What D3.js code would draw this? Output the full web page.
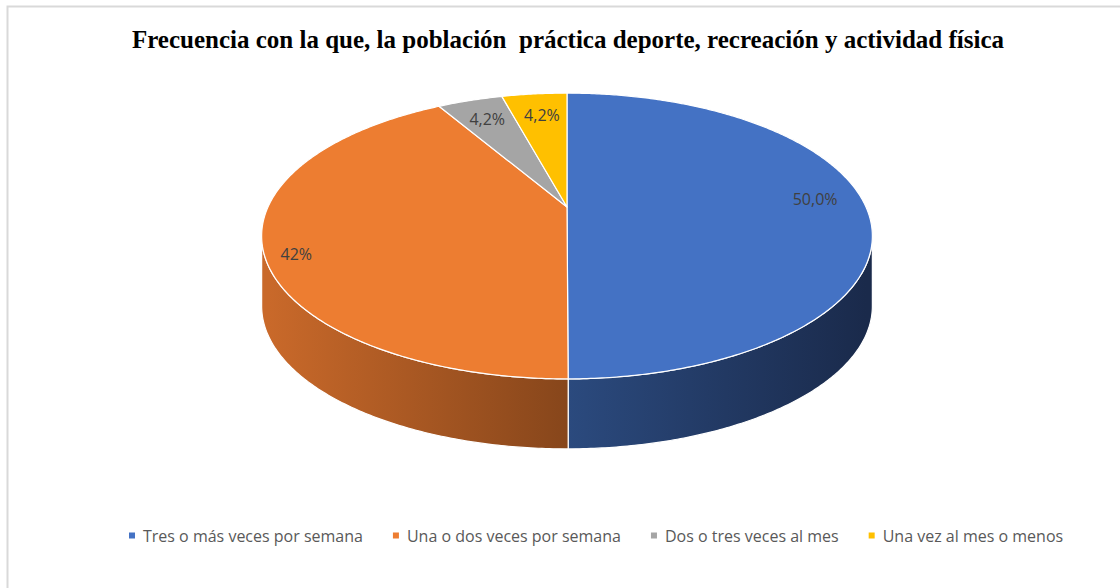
<!DOCTYPE html>
<html>
<head>
<meta charset="utf-8">
<script src="https://cdn.jsdelivr.net/npm/d3@7"></script>
<style>
  body { margin: 0; background: #fff; }
  svg { display: block; }
</style>
</head>
<body>
<svg id="chart" width="1120" height="588"></svg>
<script>
// data
var categories = ["Tres o más veces por semana", "Una o dos veces por semana", "Dos o tres veces al mes", "Una vez al mes o menos"];
var values = [50.0, 41.7, 4.2, 4.2];
var labels = ["50,0%", "42%", "4,2%", "4,2%"];
var colors = ["#4472C4", "#ED7D31", "#A5A5A5", "#FFC000"];
var title = "Frecuencia con la que, la población  práctica deporte, recreación y actividad física";

var svg = d3.select("#chart"),
    width = +svg.attr("width"),
    height = +svg.attr("height");

// outer frame (only top and left visible in the picture)
svg.append("path")
  .attr("d", "M7.5,588 L7.5,6.5 L1120,6.5")
  .attr("fill", "none")
  .attr("stroke", "#d9d9d9")
  .attr("stroke-width", 2);

svg.append("text")
  .attr("x", 568)
  .attr("y", 48)
  .attr("text-anchor", "middle")
  .style("white-space", "pre")
  .attr("font-family", "'Liberation Serif', 'Times New Roman', serif")
  .attr("font-weight", "bold")
  .attr("font-size", 25)
  .attr("fill", "#000")
  .text(title);

// pie geometry: a disc seen in perspective (back narrower than front)
var cx = 567, cy = 207, A = 299, B = 137, persp = 0.203, depth = 70;

function proj(a, k, dy) {
  k = k == null ? 1 : k;
  var s = 1 + persp * k * Math.cos(a);
  return [cx + A * k * Math.sin(a) / s, cy - B * k * Math.cos(a) / s + (dy || 0)];
}
function sample(a0, a1, dy) {
  var n = Math.max(2, Math.ceil((a1 - a0) / 0.01));
  return d3.range(n + 1).map(function(j) { return proj(a0 + (a1 - a0) * j / n, 1, dy); });
}
var line = d3.line();

var pie = d3.pie().sort(null).value(function(d) { return d; });
var arcs = pie(values);

var defs = svg.append("defs");
var sideStops = [
  [["0%", "#2b4a7e"], ["100%", "#1a2a4b"]],
  [["0%", "#c9692a"], ["100%", "#87461b"]],
  [["0%", "#8c8c8c"], ["100%", "#6b6b6b"]],
  [["0%", "#d9a300"], ["100%", "#a67d00"]]
];
arcs.forEach(function(d, i) {
  var g = defs.append("linearGradient")
    .attr("id", "side" + i)
    .attr("gradientUnits", "userSpaceOnUse")
    .attr("y1", 0).attr("y2", 0);
  if (i == 0) { g.attr("x1", cx).attr("x2", cx + A); }
  else { g.attr("x1", cx - A).attr("x2", cx); }
  sideStops[i].forEach(function(s) {
    g.append("stop").attr("offset", s[0]).attr("stop-color", s[1]);
  });
});

// walls: visible between the two silhouette angles
var aR = Math.acos(-persp), aL = 2 * Math.PI - aR;
var walls = svg.append("g");
arcs.forEach(function(d, i) {
  var w0 = Math.max(d.startAngle, aR),
      w1 = Math.min(d.endAngle, aL);
  if (w1 <= w0) return;
  var pts = sample(w0, w1, 0).concat(sample(w0, w1, depth).reverse());
  walls.append("path")
    .attr("d", line(pts) + "Z")
    .attr("fill", "url(#side" + i + ")")
    .attr("stroke", "#fff")
    .attr("stroke-width", 1.2)
    .attr("stroke-linejoin", "round");
});

// top faces
var tops = svg.append("g");
tops.selectAll("path").data(arcs).enter()
  .append("path")
  .attr("d", function(d) {
    return line([[cx, cy]].concat(sample(d.startAngle, d.endAngle, 0))) + "Z";
  })
  .attr("fill", function(d, i) { return colors[i]; })
  .attr("stroke", "#fff")
  .attr("stroke-width", 1.2)
  .attr("stroke-linejoin", "round");

// data labels, placed along the middle angle of each slice
var labelK = [0.83, 0.9, 0.75, 0.8];
var labelNudge = [[0, -7], [2, 13], [-4, -4], [2, 2]];
svg.append("g").selectAll("text").data(arcs).enter()
  .append("text")
  .attr("transform", function(d, i) {
    var m = (d.startAngle + d.endAngle) / 2;
    var p = proj(m, labelK[i]);
    return "translate(" + (p[0] + labelNudge[i][0]) + "," + (p[1] + labelNudge[i][1]) + ")";
  })
  .attr("text-anchor", "middle")
  .attr("dy", "0.35em")
  .attr("font-family", "'Open Sans', Lato, sans-serif")
  .attr("font-size", 16)
  .attr("fill", "#404040")
  .text(function(d, i) { return labels[i]; });

// legend
var legend = svg.append("g").attr("transform", "translate(0,536)");
var lx = 129;
categories.forEach(function(c, i) {
  var item = legend.append("g").attr("transform", "translate(" + lx + ",0)");
  item.append("rect")
    .attr("x", 0).attr("y", -3.5)
    .attr("width", 6).attr("height", 6)
    .attr("fill", colors[i]);
  var t = item.append("text")
    .attr("x", 14)
    .attr("dy", "0.35em")
    .attr("font-family", "'Open Sans', Lato, sans-serif")
    .attr("font-size", 16)
    .attr("fill", "#595959")
    .text(c);
  lx += 14 + t.node().getComputedTextLength() + 30;
});
</script>
</body>
</html>
